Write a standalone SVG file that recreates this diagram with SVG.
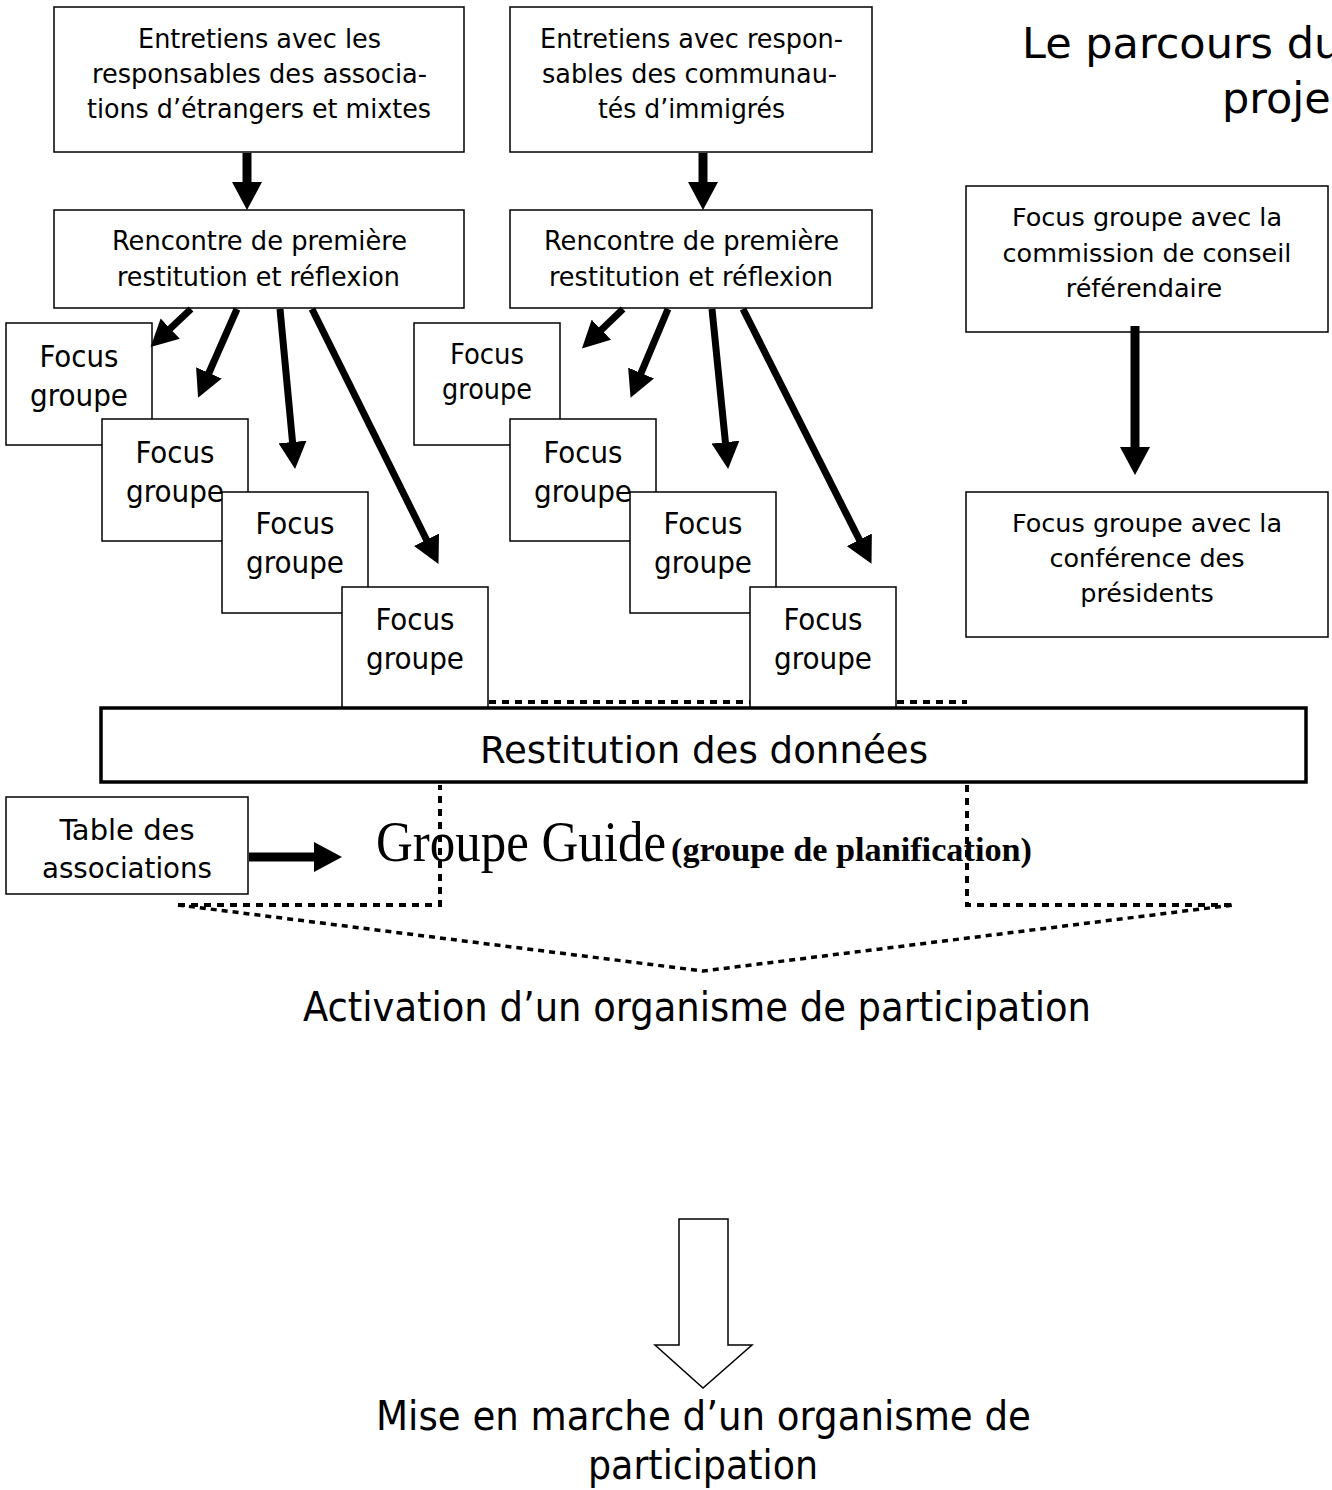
<svg xmlns="http://www.w3.org/2000/svg" width="1332" height="1490" viewBox="0 0 1332 1490">
<style>
.box{fill:#fff;stroke:#000;stroke-width:1.5}
.t{font-family:"DejaVu Sans Condensed","DejaVu Sans",sans-serif;font-stretch:condensed;fill:#000;text-anchor:middle}
.v{font-family:"DejaVu Sans",Verdana,sans-serif;fill:#000;text-anchor:middle;font-size:25.5px}
.s27{font-size:27px}
.s31{font-size:31px}
.s28{font-size:28px}
.thin{stroke:#000;stroke-width:7;fill:none}
.thick{stroke:#000;stroke-width:9;fill:none}
.dot{stroke:#000;stroke-width:4;fill:none;stroke-dasharray:7 6}
.dot2{stroke:#000;stroke-width:3.5;fill:none;stroke-dasharray:6 5}
</style>
<defs>
<marker id="ah" markerUnits="userSpaceOnUse" viewBox="0 0 27 28" markerWidth="27" markerHeight="28" refX="5" refY="14" orient="auto"><path d="M0,0 L27,14 L0,28 z" fill="#000"/></marker>
<marker id="ahb" markerUnits="userSpaceOnUse" viewBox="0 0 28 30" markerWidth="28" markerHeight="30" refX="6" refY="15" orient="auto"><path d="M0,0 L28,15 L0,30 z" fill="#000"/></marker>
</defs>
<rect width="1332" height="1490" fill="#fff"/>

<g id="title">
<text class="v" style="font-size:43px;text-anchor:start" x="1022" y="58">Le parcours du</text>
<text class="v" style="font-size:43px;text-anchor:start" x="1222" y="113">proje</text>
</g>

<g id="n1">
<rect class="box" x="54" y="7" width="410" height="145"/>
<text class="t s27" x="259.5" y="48" textLength="243" lengthAdjust="spacingAndGlyphs">Entretiens avec les</text>
<text class="t s27" x="259.5" y="83" textLength="335" lengthAdjust="spacingAndGlyphs">responsables des associa-</text>
<text class="t s27" x="259" y="118" textLength="344" lengthAdjust="spacingAndGlyphs">tions d’étrangers et mixtes</text>
</g>
<g id="n2">
<rect class="box" x="54" y="210" width="410" height="98"/>
<text class="t s27" x="259.5" y="250" textLength="295" lengthAdjust="spacingAndGlyphs">Rencontre de première</text>
<text class="t s27" x="258.5" y="286" textLength="283" lengthAdjust="spacingAndGlyphs">restitution et réflexion</text>
</g>
<g id="n3">
<rect class="box" x="510" y="7" width="362" height="145"/>
<text class="t s27" x="691.5" y="48" textLength="303" lengthAdjust="spacingAndGlyphs">Entretiens avec respon-</text>
<text class="t s27" x="689.5" y="83" textLength="295" lengthAdjust="spacingAndGlyphs">sables des communau-</text>
<text class="t s27" x="691.5" y="118" textLength="187" lengthAdjust="spacingAndGlyphs">tés d’immigrés</text>
</g>
<g id="n4">
<rect class="box" x="510" y="210" width="362" height="98"/>
<text class="t s27" x="691.5" y="250" textLength="295" lengthAdjust="spacingAndGlyphs">Rencontre de première</text>
<text class="t s27" x="691" y="286" textLength="284" lengthAdjust="spacingAndGlyphs">restitution et réflexion</text>
</g>

<g id="fg1">
<rect class="box" x="6" y="323" width="146" height="122"/>
<text class="t s31" x="79" y="367" textLength="79" lengthAdjust="spacingAndGlyphs">Focus</text>
<text class="t s31" x="79" y="406" textLength="98" lengthAdjust="spacingAndGlyphs">groupe</text>
</g>
<g id="fg2">
<rect class="box" x="102" y="419" width="146" height="122"/>
<text class="t s31" x="175" y="463" textLength="79" lengthAdjust="spacingAndGlyphs">Focus</text>
<text class="t s31" x="175" y="502" textLength="98" lengthAdjust="spacingAndGlyphs">groupe</text>
</g>
<g id="fg3">
<rect class="box" x="222" y="492" width="146" height="121"/>
<text class="t s31" x="295" y="534" textLength="79" lengthAdjust="spacingAndGlyphs">Focus</text>
<text class="t s31" x="295" y="573" textLength="98" lengthAdjust="spacingAndGlyphs">groupe</text>
</g>
<g id="fg4">
<rect class="box" x="342" y="587" width="146" height="121"/>
<text class="t s31" x="415" y="630" textLength="79" lengthAdjust="spacingAndGlyphs">Focus</text>
<text class="t s31" x="415" y="669" textLength="98" lengthAdjust="spacingAndGlyphs">groupe</text>
</g>

<g id="fgm1">
<rect class="box" x="414" y="323" width="146" height="122"/>
<text class="t s28" x="487" y="364" textLength="74" lengthAdjust="spacingAndGlyphs">Focus</text>
<text class="t s28" x="487" y="399" textLength="90" lengthAdjust="spacingAndGlyphs">groupe</text>
</g>
<g id="fgm2">
<rect class="box" x="510" y="419" width="146" height="122"/>
<text class="t s31" x="583" y="463" textLength="79" lengthAdjust="spacingAndGlyphs">Focus</text>
<text class="t s31" x="583" y="502" textLength="98" lengthAdjust="spacingAndGlyphs">groupe</text>
</g>
<g id="fgm3">
<rect class="box" x="630" y="492" width="146" height="121"/>
<text class="t s31" x="703" y="534" textLength="79" lengthAdjust="spacingAndGlyphs">Focus</text>
<text class="t s31" x="703" y="573" textLength="98" lengthAdjust="spacingAndGlyphs">groupe</text>
</g>
<g id="fgm4">
<rect class="box" x="750" y="587" width="146" height="121"/>
<text class="t s31" x="823" y="630" textLength="79" lengthAdjust="spacingAndGlyphs">Focus</text>
<text class="t s31" x="823" y="669" textLength="98" lengthAdjust="spacingAndGlyphs">groupe</text>
</g>

<g id="r1">
<rect class="box" x="966" y="186" width="362" height="146"/>
<text class="v" x="1147" y="226">Focus groupe avec la</text>
<text class="v" x="1147" y="262">commission de conseil</text>
<text class="v" x="1144" y="297">référendaire</text>
</g>
<g id="r2">
<rect class="box" x="966" y="492" width="362" height="145"/>
<text class="v" x="1147" y="532">Focus groupe avec la</text>
<text class="v" x="1147" y="567">conférence des</text>
<text class="v" x="1147" y="602">présidents</text>
</g>

<g id="restitution">
<rect x="101" y="708" width="1205" height="74" fill="#fff" stroke="#000" stroke-width="3.5"/>
<text class="t" style="font-size:38px" x="704" y="763" textLength="448" lengthAdjust="spacingAndGlyphs">Restitution des données</text>
</g>

<g id="table">
<rect class="box" x="6" y="797" width="242" height="97"/>
<text class="t" style="font-size:29px" x="127" y="840" textLength="135" lengthAdjust="spacingAndGlyphs">Table des</text>
<text class="t" style="font-size:29px" x="127" y="878" textLength="170" lengthAdjust="spacingAndGlyphs">associations</text>
</g>

<g id="guide">
<text x="376" y="861" style="font-family:'Liberation Serif','Times New Roman',serif;font-size:58px" textLength="290" lengthAdjust="spacingAndGlyphs">Groupe Guide</text>
<text x="671" y="861" style="font-family:'Liberation Serif','Times New Roman',serif;font-size:33px;font-weight:bold" textLength="361" lengthAdjust="spacingAndGlyphs">(groupe de planification)</text>
</g>

<g id="activation">
<text class="t" style="font-size:40px" x="697" y="1021" textLength="788" lengthAdjust="spacingAndGlyphs">Activation d’un organisme de participation</text>
</g>

<g id="bigarrow">
<polygon points="679,1219 728,1219 728,1345 752,1345 703,1388 655,1345 679,1345" fill="#fff" stroke="#000" stroke-width="1.5"/>
</g>

<g id="miseenmarche">
<text class="t" style="font-size:40px" x="703.5" y="1430" textLength="655" lengthAdjust="spacingAndGlyphs">Mise en marche d’un organisme de</text>
<text class="t" style="font-size:40px" x="703" y="1479" textLength="230" lengthAdjust="spacingAndGlyphs">participation</text>
</g>

<g id="connectors">
<line class="thick" x1="247" y1="153" x2="247" y2="188" marker-end="url(#ahb)"/>
<line class="thick" x1="703" y1="153" x2="703" y2="188" marker-end="url(#ahb)"/>
<line class="thick" x1="1135" y1="326" x2="1135" y2="453" marker-end="url(#ahb)"/>
<line class="thick" x1="249" y1="857" x2="320" y2="857" marker-end="url(#ahb)"/>
<line class="thin" x1="191" y1="309" x2="166.6" y2="332" marker-end="url(#ah)"/>
<line class="thin" x1="237" y1="309" x2="206.9" y2="377.5" marker-end="url(#ah)"/>
<line class="thin" x1="280" y1="309" x2="293" y2="447" marker-end="url(#ah)"/>
<line class="thin" x1="312" y1="309" x2="428.7" y2="544.2" marker-end="url(#ah)"/>
<line class="thin" x1="623" y1="309" x2="597.8" y2="333.2" marker-end="url(#ah)"/>
<line class="thin" x1="668" y1="309" x2="639.1" y2="377.6" marker-end="url(#ah)"/>
<line class="thin" x1="712" y1="309" x2="725.9" y2="447.1" marker-end="url(#ah)"/>
<line class="thin" x1="743" y1="309" x2="861.6" y2="544.2" marker-end="url(#ah)"/>
<path class="dot" d="M489,702 H750"/>
<path class="dot" d="M897,702 H967"/>
<path class="dot" d="M178,905 H440 V785"/>
<path class="dot" d="M967,785 V905 H1233"/>
<path class="dot2" d="M178,905 L703,971 L1233,905"/>
</g>
</svg>
